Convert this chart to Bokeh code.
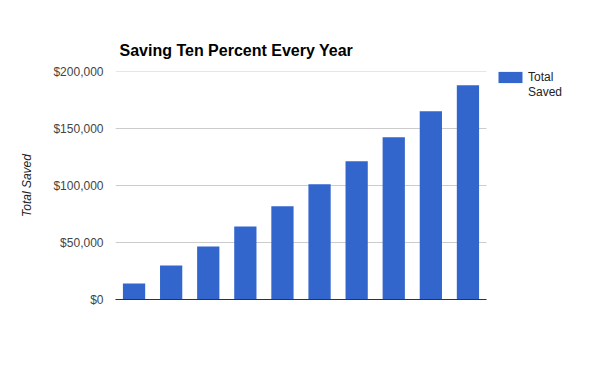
from bokeh.plotting import figure
from bokeh.models import (ColumnDataSource, Range1d, FixedTicker, NumeralTickFormatter,
                          Legend, LegendItem)
from bokeh.embed import file_html
from bokeh.resources import INLINE

years = [1, 2, 3, 4, 5, 6, 7, 8, 9, 10]
total_saved = [14055, 29866, 46555, 64125, 81690, 101020, 121220, 142300, 165140, 187980]
y_ticks = [0, 50000, 100000, 150000, 200000]
series_name_lines = ["Total", "Saved"]
title_text = "Saving Ten Percent Every Year"
y_title = "Total Saved"

FONT = "Liberation Sans"

# layout (pixels)
W, H = 584, 355
LEFT, TOP, BOTTOM = 115, 71, 56
CHART_W = 371                      # width of the bar area
FRAME_W = W - LEFT                 # frame extended to hold the legend
FRAME_H = H - TOP - BOTTOM

x0 = years[0] - 0.5
x1 = years[-1] + 0.5
x_end = x0 + (x1 - x0) * FRAME_W / CHART_W

src = ColumnDataSource(dict(x=years, y=total_saved))
grid_src = ColumnDataSource(dict(y=y_ticks))

p = figure(width=W, height=H, output_backend="svg", toolbar_location=None,
           x_range=Range1d(x0, x_end), y_range=Range1d(0, y_ticks[-1]),
           min_border_left=LEFT, min_border_right=0, min_border_top=TOP,
           min_border_bottom=BOTTOM, title=title_text)
p.outline_line_color = None
p.background_fill_color = "white"
p.border_fill_color = "white"

p.title.text_font = FONT
p.title.text_font_size = "16px"
p.title.text_font_style = "bold"
p.title.text_color = "#000000"
p.title.align = "left"
p.title.offset = 4
p.title.standoff = 25

# horizontal gridlines limited to the bar area
p.xgrid.visible = False
p.ygrid.visible = False
p.segment(x0=x0, x1=x1, y0="y", y1="y", source=grid_src, line_color="#cccccc", line_width=1)

r = p.vbar(x="x", top="y", width=0.6, source=src, fill_color="#3366cc", line_color=None)
# empty, invisible renderer that only carries the legend's second text line
r_blank = p.vbar(x="x", top="y", width=0.6, source=ColumnDataSource(dict(x=[], y=[])),
                 fill_alpha=0, line_alpha=0)

ya = p.yaxis[0]
ya.ticker = FixedTicker(ticks=y_ticks)
ya.formatter = NumeralTickFormatter(format="$0,0")
ya.axis_line_color = None
ya.major_tick_line_color = None
ya.minor_tick_line_color = None
ya.major_tick_out = 0
ya.major_label_standoff = 12
ya.major_label_text_font = FONT
ya.major_label_text_font_size = "12px"
ya.major_label_text_color = "#444444"
ya.axis_label = y_title
ya.axis_label_text_font = FONT
ya.axis_label_text_font_size = "12px"
ya.axis_label_text_font_style = "italic"
ya.axis_label_text_color = "#222222"
ya.axis_label_standoff = 16

xa = p.xaxis[0]
xa.ticker = FixedTicker(ticks=[])
xa.bounds = (x0, x1)
xa.axis_line_color = "#333333"
xa.major_tick_line_color = None
xa.minor_tick_line_color = None
xa.major_tick_out = 0

legend = Legend(items=[LegendItem(label=series_name_lines[0], renderers=[r]),
                       LegendItem(label=series_name_lines[1], renderers=[r_blank])],
                location=(CHART_W + 9, FRAME_H - 28), margin=0, padding=0, spacing=1,
                glyph_width=30, glyph_height=14, label_standoff=3,
                label_text_font=FONT, label_text_font_size="12px",
                label_text_color="#222222", border_line_color=None,
                background_fill_alpha=0)
p.add_layout(legend, "center")

open("out.html", "w").write(file_html(p, INLINE))
